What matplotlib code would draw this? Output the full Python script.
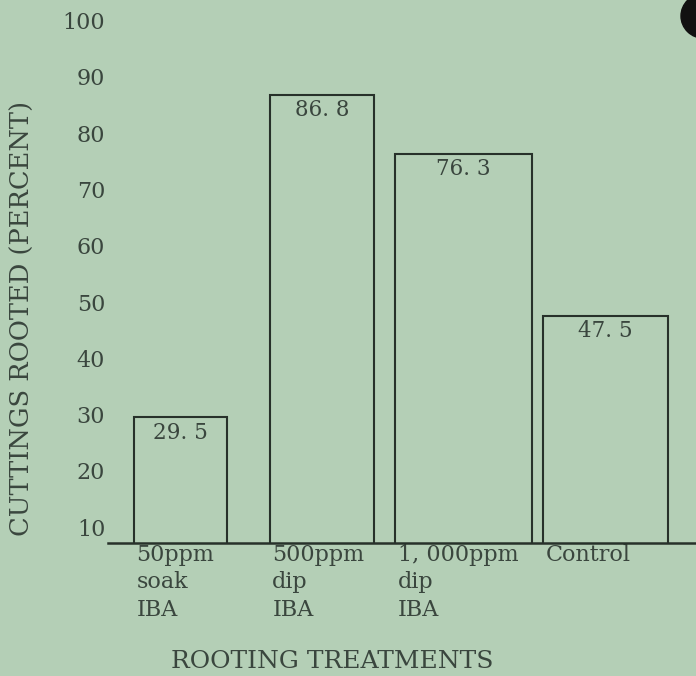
import matplotlib
matplotlib.use("Agg")
import matplotlib.pyplot as plt
import numpy as np
from matplotlib.patches import Circle

# ---- data ----
categories = ["50ppm\nsoak\nIBA", "500ppm\ndip\nIBA", "1, 000ppm\ndip\nIBA", "Control"]
rooted_pct = [29.5, 86.8, 76.3, 47.5]
y_ticks = [10, 20, 30, 40, 50, 60, 70, 80, 90, 100]

# ---- style ----
bg = "#b4cfb6"
ink = "#27312a"
txt = "#3a463e"
bar_widths = [0.66, 0.74, 0.97, 0.88]
serif = ["DejaVu Serif"]

fig = plt.figure(figsize=(6.96, 6.76), dpi=100, facecolor=bg)
ax = fig.add_axes([108 / 696, 1 - 543 / 676, 1 - 108 / 696, 533 / 676])
ax.set_facecolor(bg)

x = np.arange(len(rooted_pct))
bars = ax.bar(x, rooted_pct, width=bar_widths, facecolor="none",
              edgecolor=ink, linewidth=1.5)

ax.set_xlim(-0.51, 3.64)
ax.set_ylim(7.2, 101.9)

for b, v in zip(bars, rooted_pct):
    ax.annotate(f"{v:.1f}".replace(".", ". "),
                (b.get_x() + b.get_width() / 2, b.get_height()),
                xytext=(0, -3), textcoords="offset points",
                ha="center", va="top", fontsize=15.5, color=txt,
                family=serif)

for s in ["top", "right", "left"]:
    ax.spines[s].set_visible(False)
ax.spines["bottom"].set_color(ink)
ax.spines["bottom"].set_linewidth(1.8)

ax.set_yticks(y_ticks)
ax.set_yticklabels([str(t) for t in y_ticks], family=serif, fontsize=16, color=txt)
ax.tick_params(axis="y", length=0, pad=2)

lefts = [b.get_x() for b in bars]
ax.set_xticks(np.array(lefts) + 0.02)
ax.set_xticklabels(categories, family=serif, fontsize=16, color=txt,
                   ha="left", va="top", linespacing=1.3)
ax.tick_params(axis="x", length=0, pad=1)

fig.text(22 / 696, 1 - 318 / 676, "CUTTINGS ROOTED (PERCENT)", rotation=90,
         ha="center", va="center", fontsize=18.5, color=txt, family=serif)
fig.text(332 / 696, 1 - 662 / 676, "ROOTING TREATMENTS", ha="center",
         va="center", fontsize=18, color=txt, family=serif)

fig.patches.append(Circle((704 / 696, 1 - 16 / 676), 23 / 696,
                          transform=fig.transFigure, color="#111111", zorder=10))

fig.savefig("out.png", dpi=100, facecolor=bg)
